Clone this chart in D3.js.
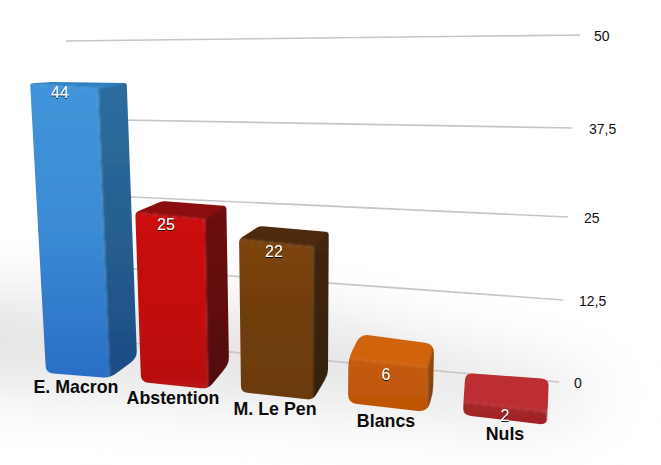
<!DOCTYPE html>
<html><head><meta charset="utf-8">
<script src="https://cdn.jsdelivr.net/npm/d3@7"></script>
<style>
html,body{margin:0;padding:0;background:#fff}
svg{display:block}
text{font-family:"Liberation Sans",Arial,sans-serif}
</style></head><body>
<svg id="c" width="661" height="465"></svg>
<script>
// ---- data ----
const categories = ["E. Macron","Abstention","M. Le Pen","Blancs","Nuls"];
const values = [44,25,22,6,2];
const ticks = [0,12.5,25,37.5,50];
const tickLabels = ["0","12,5","25","37,5","50"];

// ---- perspective layout: scales from category / value to the page ----
const W=661,H=465;
const ord=r=>d3.scaleOrdinal(categories,r);
const foot={
  fl:[ord([46,141,241,348,463]),ord([373,382,392,403,415])],
  fr:[ord([110,208,313,427,547]),ord([378,389,400,412,425])],
  br:[ord([137,229,328,433,548]),ord([358,364,375,395,393])],
  bl:[ord([65,167,261,360,465]),ord([357,359,369,385,387])]
};
const frontUnit=ord([6.58,6.78,6.95,7.4,6.5]);
const backUnit=ord([6.25,6.32,6.5,8.5,7]);
const radius=ord([7,7,6,9,8]);
const topRadius=ord([2,3,3,9,7]);
const vanishX=304,spread=0.0014;
const topPoint=(corner,c,v,unit)=>{
  const x=foot[corner][0](c),y=foot[corner][1](c);
  return [x+(x-vanishX)*spread*v, y-unit(c)*v];
};
const gridRightX=d3.scaleLinear(ticks,[559,563,568,572,580]);
const gridRightY=d3.scaleLinear(ticks,[382,300,217,128,35]);
const gridLeftY=d3.scaleLinear(ticks,[337,264,194,119,41]);
const gridLeftX=66;
const tickLabelX=d3.scaleLinear(ticks,[574,579,584,589,594]);
const catX=ord([76,173,275,386,505]), catY=ord([393,404,415,427,440]);
const valX=ord([60,166,274,386,505]), valY=ord([98,230,257,380,421]);

const palette={
  "E. Macron":{front:["#4296da","#3a8bd4","#2a6ec6"],side:["#2b6d9f","#27608f","#1b4a86"],top:"#2f7fc4"},
  "Abstention":{front:["#cc1010","#c40f10","#b81212"],side:["#6f0a0c","#620a0c","#4e090c"],top:"#8c0a0e"},
  "M. Le Pen":{front:["#804610","#703d0f","#6c3b10"],side:["#43260a","#3c2209","#33200b"],top:"#4d2a0a"},
  "Blancs":{front:["#c85e08","#c25a08","#bd5606"],side:["#95470a","#8f4408","#7f3c08"],top:"#d2630a"},
  "Nuls":{front:["#b02a2c","#a82628","#a02426"],side:["#8a2022","#842022","#7e1e20"],top:"#bd2f32"}
};

const svg=d3.select("#c");
const defs=svg.append("defs");
defs.append("filter").attr("id","bgBlur").attr("x","-30%").attr("y","-60%").attr("width","160%").attr("height","220%")
  .append("feGaussianBlur").attr("stdDeviation",32);
defs.append("filter").attr("id","soft").attr("x","-5%").attr("y","-5%").attr("width","110%").attr("height","110%")
  .append("feGaussianBlur").attr("stdDeviation",1.1);
const sh=defs.append("filter").attr("id","txtShadow").attr("x","-30%").attr("y","-30%").attr("width","160%").attr("height","160%");
sh.append("feDropShadow").attr("dx",0).attr("dy",1).attr("stdDeviation",0.6).attr("flood-color","#000").attr("flood-opacity",0.9);

// floor shading
svg.append("rect").attr("width",W).attr("height",H).attr("fill","#fff");
svg.append("path").attr("d","M-80,290L300,310L620,390L540,420L200,400L-80,385Z")
  .attr("fill","#e4e4e4").attr("filter","url(#bgBlur)");

// gridlines
svg.append("g").selectAll("line").data(ticks).join("line")
  .attr("x1",gridLeftX).attr("y1",gridLeftY)
  .attr("x2",gridRightX).attr("y2",gridRightY)
  .attr("stroke","#c6c6c6").attr("stroke-width",1.6);

// tick labels
svg.append("g").selectAll("text").data(ticks).join("text")
  .attr("x",tickLabelX).attr("y",d=>gridRightY(d)+6)
  .attr("font-size",14).attr("fill","#111")
  .text((d,i)=>tickLabels[i]);

function rounded(pts,rOf){
  const n=pts.length;let s="";
  pts.forEach((p,i)=>{
    const r=rOf(p);
    const a=pts[(i-1+n)%n],b=pts[(i+1)%n];
    const da=Math.hypot(a[0]-p[0],a[1]-p[1]),db=Math.hypot(b[0]-p[0],b[1]-p[1]);
    const ra=Math.min(r,da/2),rb=Math.min(r,db/2);
    const p1=[p[0]+(a[0]-p[0])*ra/da,p[1]+(a[1]-p[1])*ra/da];
    const p2=[p[0]+(b[0]-p[0])*rb/db,p[1]+(b[1]-p[1])*rb/db];
    s+=(i?"L":"M")+p1[0]+","+p1[1]+"Q"+p[0]+","+p[1]+" "+p2[0]+","+p2[1];
  });
  return s+"Z";
}
const poly=pts=>"M"+pts.map(p=>p.join(",")).join("L")+"Z";

const bars=svg.append("g").selectAll("g").data(categories.map((c,i)=>({c,v:values[i],i}))).join("g");
bars.each(function(d){
  const g=d3.select(this),c=d.c,v=d.v,pal=palette[c];
  const base=k=>[foot[k][0](c),foot[k][1](c)];
  const tfl=topPoint("fl",c,v,frontUnit),tfr=topPoint("fr",c,v,frontUnit),
        tbr=topPoint("br",c,v,backUnit),tbl=topPoint("bl",c,v,backUnit);
  const bottoms=[base("fl"),base("fr"),base("br")];
  const hull=d3.polygonHull([...bottoms,tfl,tfr,tbr,tbl]);
  const cid="clip"+d.i;
  defs.append("clipPath").attr("id",cid).append("path")
    .attr("d",rounded(hull,p=>bottoms.includes(p)?radius(c):topRadius(c)));
  const grad=(name,stops,a,b)=>{
    const id=name+d.i;
    const lg=defs.append("linearGradient").attr("id",id).attr("gradientUnits","userSpaceOnUse")
      .attr("x1",0).attr("x2",0).attr("y1",a).attr("y2",b);
    stops.forEach((s,j)=>lg.append("stop").attr("offset",j/(stops.length-1)).attr("stop-color",s));
    return "url(#"+id+")";
  };
  const inner=g.append("g").attr("clip-path","url(#"+cid+")").append("g").attr("filter","url(#soft)");
  const yBot=base("fr")[1],yTop=Math.min(tfl[1],tbl[1]);
  const pad=8;
  inner.append("path").attr("d",poly([[tbl[0]-pad,tbl[1]-pad],[tbr[0]+pad,tbr[1]-pad],[tbr[0]+pad,tbr[1]],tfr,tfl,[tfl[0]-pad,tfl[1]]])).attr("fill",pal.top);
  inner.append("path").attr("d",poly([tfr,[tbr[0],tbr[1]],[tbr[0]+pad,tbr[1]-pad],[base("br")[0]+pad,base("br")[1]],base("br"),[base("fr")[0],base("fr")[1]+pad]])).attr("fill",grad("s",pal.side,yTop,yBot));
  inner.append("path").attr("d",poly([[tfl[0]-pad,tfl[1]],tfl,tfr,[base("fr")[0],base("fr")[1]+pad],[base("fl")[0]-pad,base("fl")[1]+pad]])).attr("fill",grad("f",pal.front,yTop,yBot));
});

// value labels
svg.append("g").selectAll("text").data(categories).join("text")
  .attr("x",valX).attr("y",valY).attr("text-anchor","middle")
  .attr("font-size",16).attr("fill","#fff").attr("filter","url(#txtShadow)")
  .text((c,i)=>values[i]);

// category labels
svg.append("g").selectAll("text").data(categories).join("text")
  .attr("x",catX).attr("y",catY).attr("text-anchor","middle")
  .attr("font-size",17.8).attr("font-weight","bold").attr("fill","#0c0c0c")
  .text(c=>c);
</script></body></html>
